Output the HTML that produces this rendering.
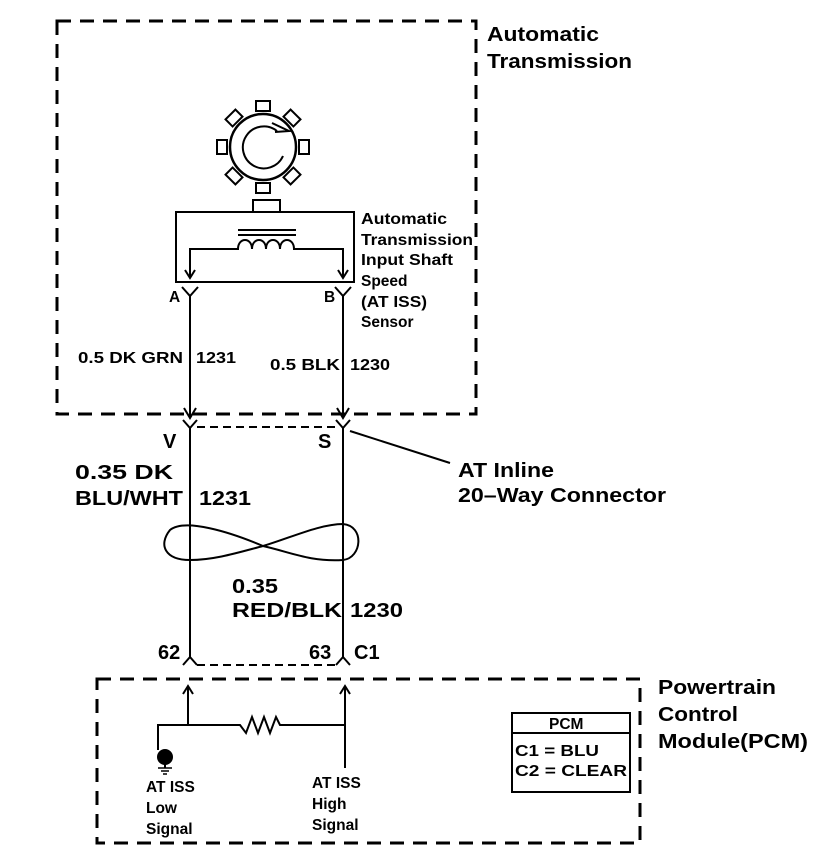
<!DOCTYPE html>
<html><head><style>
body{margin:0;background:#fff;}
svg{display:block;}
text{font-family:"Liberation Sans",Arial,sans-serif;fill:#000;font-weight:bold;}
</style></head><body>
<svg width="832" height="860" viewBox="0 0 832 860" xmlns="http://www.w3.org/2000/svg">
<g fill="none" stroke="#000">
<rect x="57" y="21" width="419" height="393" stroke-width="3" stroke-dasharray="14,9"/>
<rect x="97" y="679" width="543" height="164" stroke-width="3" stroke-dasharray="14,9"/>
<g stroke-width="2" fill="#fff">
<rect x="256" y="101" width="14" height="10" transform="rotate(0 263 147)"/>
<rect x="256" y="101" width="14" height="10" transform="rotate(45 263 147)"/>
<rect x="256" y="101" width="14" height="10" transform="rotate(90 263 147)"/>
<rect x="256" y="101" width="14" height="10" transform="rotate(135 263 147)"/>
<rect x="256" y="101" width="14" height="10" transform="rotate(180 263 147)"/>
<rect x="256" y="101" width="14" height="10" transform="rotate(225 263 147)"/>
<rect x="256" y="101" width="14" height="10" transform="rotate(270 263 147)"/>
<rect x="256" y="101" width="14" height="10" transform="rotate(315 263 147)"/>
</g>
<circle cx="263" cy="147" r="33" stroke-width="2.5" fill="#fff"/>
<path d="M277 131 A21 21 0 1 0 283 156" stroke-width="2"/>
<path d="M272 123 L289 131 L275 132" stroke-width="2"/>
<rect x="253" y="200" width="27" height="12" stroke-width="2"/>
<rect x="176" y="212" width="178" height="70" stroke-width="2"/>
<line x1="238" y1="230" x2="296" y2="230" stroke-width="2"/>
<line x1="238" y1="235" x2="296" y2="235" stroke-width="2"/>
<path d="M190 277 V249 H238 c0,-12 14,-12 14,0 c0,-12 14,-12 14,0 c0,-12 14,-12 14,0 c0,-12 14,-12 14,0 H343 V277" stroke-width="2"/>
<path d="M185 270 L190 278 L195 270 M338 270 L343 278 L348 270" stroke-width="2"/>
<path d="M182 287 L190 296 L198 287 M335 287 L343 296 L351 287" stroke-width="2"/>
<line x1="190" y1="296" x2="190" y2="418" stroke-width="2"/>
<line x1="343" y1="296" x2="343" y2="418" stroke-width="2"/>
<path d="M184 408 L190 418 L196 408 M337 408 L343 418 L349 408" stroke-width="2"/>
<path d="M183 420 L190 428 L197 420 M336 420 L343 428 L350 420" stroke-width="2"/>
<line x1="197" y1="427" x2="336" y2="427" stroke-width="2" stroke-dasharray="8,5"/>
<line x1="350" y1="431" x2="450" y2="463" stroke-width="2"/>
<line x1="190" y1="428" x2="190" y2="657" stroke-width="2"/>
<line x1="343" y1="428" x2="343" y2="657" stroke-width="2"/>
<path d="M263 546 C230 532 185 518 170 530 C158 545 165 560 190 560 C215 560 240 552 263 546 C290 538 320 524 343 524 C365 526 362 558 343 560 C310 562 290 552 263 546" stroke-width="2"/>
<path d="M183 665 L190 657 L197 665 M336 665 L343 657 L350 665" stroke-width="2"/>
<line x1="197" y1="665" x2="336" y2="665" stroke-width="2" stroke-dasharray="8,5"/>
<line x1="188" y1="688" x2="188" y2="725" stroke-width="2"/>
<line x1="345" y1="688" x2="345" y2="768" stroke-width="2"/>
<path d="M183 694 L188 686 L193 694 M340 694 L345 686 L350 694" stroke-width="2"/>
<path d="M158 750 V725 H240 L246 733 L252 717 L258 733 L264 717 L270 733 L276 717 L280 725 H345" stroke-width="2"/>
<line x1="158" y1="768" x2="172" y2="768" stroke-width="1.5"/>
<line x1="161" y1="771" x2="169" y2="771" stroke-width="1.5"/>
<line x1="163" y1="774" x2="167" y2="774" stroke-width="1.5"/>
<rect x="512" y="713" width="118" height="79" stroke-width="2"/>
<line x1="512" y1="733" x2="630" y2="733" stroke-width="2"/>
</g>
<circle cx="165" cy="757" r="8" fill="#000"/>
<line x1="165" y1="750" x2="165" y2="768" stroke="#000" stroke-width="2"/>
<g font-size="20">
<text x="487" y="41" textLength="112" lengthAdjust="spacingAndGlyphs">Automatic</text>
<text x="487" y="68" textLength="145" lengthAdjust="spacingAndGlyphs">Transmission</text>
<text x="163" y="448">V</text>
<text x="318" y="448">S</text>
<text x="75" y="479" textLength="98" lengthAdjust="spacingAndGlyphs">0.35 DK</text>
<text x="75" y="505" textLength="108" lengthAdjust="spacingAndGlyphs">BLU/WHT</text>
<text x="199" y="505" textLength="52" lengthAdjust="spacingAndGlyphs">1231</text>
<text x="458" y="477" textLength="96" lengthAdjust="spacingAndGlyphs">AT Inline</text>
<text x="458" y="502" textLength="208" lengthAdjust="spacingAndGlyphs">20–Way Connector</text>
<text x="232" y="593" textLength="46" lengthAdjust="spacingAndGlyphs">0.35</text>
<text x="232" y="617" textLength="110" lengthAdjust="spacingAndGlyphs">RED/BLK</text>
<text x="350" y="617" textLength="53" lengthAdjust="spacingAndGlyphs">1230</text>
<text x="158" y="659">62</text>
<text x="309" y="659">63</text>
<text x="354" y="659">C1</text>
<text x="658" y="694" textLength="118" lengthAdjust="spacingAndGlyphs">Powertrain</text>
<text x="658" y="721" textLength="80" lengthAdjust="spacingAndGlyphs">Control</text>
<text x="658" y="748" textLength="150" lengthAdjust="spacingAndGlyphs">Module(PCM)</text>
</g>
<g font-size="15.5">
<text x="361" y="224" textLength="86" lengthAdjust="spacingAndGlyphs">Automatic</text>
<text x="361" y="245" textLength="112" lengthAdjust="spacingAndGlyphs">Transmission</text>
<text x="361" y="265" textLength="92" lengthAdjust="spacingAndGlyphs">Input Shaft</text>
<text x="361" y="286">Speed</text>
<text x="361" y="307" textLength="66" lengthAdjust="spacingAndGlyphs">(AT ISS)</text>
<text x="361" y="327">Sensor</text>
<text x="169" y="302">A</text>
<text x="324" y="302">B</text>
<text x="78" y="363" textLength="105" lengthAdjust="spacingAndGlyphs">0.5 DK GRN</text>
<text x="196" y="363" textLength="40" lengthAdjust="spacingAndGlyphs">1231</text>
<text x="270" y="370" textLength="70" lengthAdjust="spacingAndGlyphs">0.5 BLK</text>
<text x="350" y="370" textLength="40" lengthAdjust="spacingAndGlyphs">1230</text>
<text x="146" y="792">AT ISS</text>
<text x="146" y="813">Low</text>
<text x="146" y="834">Signal</text>
<text x="312" y="788">AT ISS</text>
<text x="312" y="809">High</text>
<text x="312" y="830">Signal</text>
<text x="549" y="729">PCM</text>
<text x="515" y="756" textLength="84" lengthAdjust="spacingAndGlyphs">C1 = BLU</text>
<text x="515" y="776" textLength="112" lengthAdjust="spacingAndGlyphs">C2 = CLEAR</text>
</g>
</svg>
</body></html>
